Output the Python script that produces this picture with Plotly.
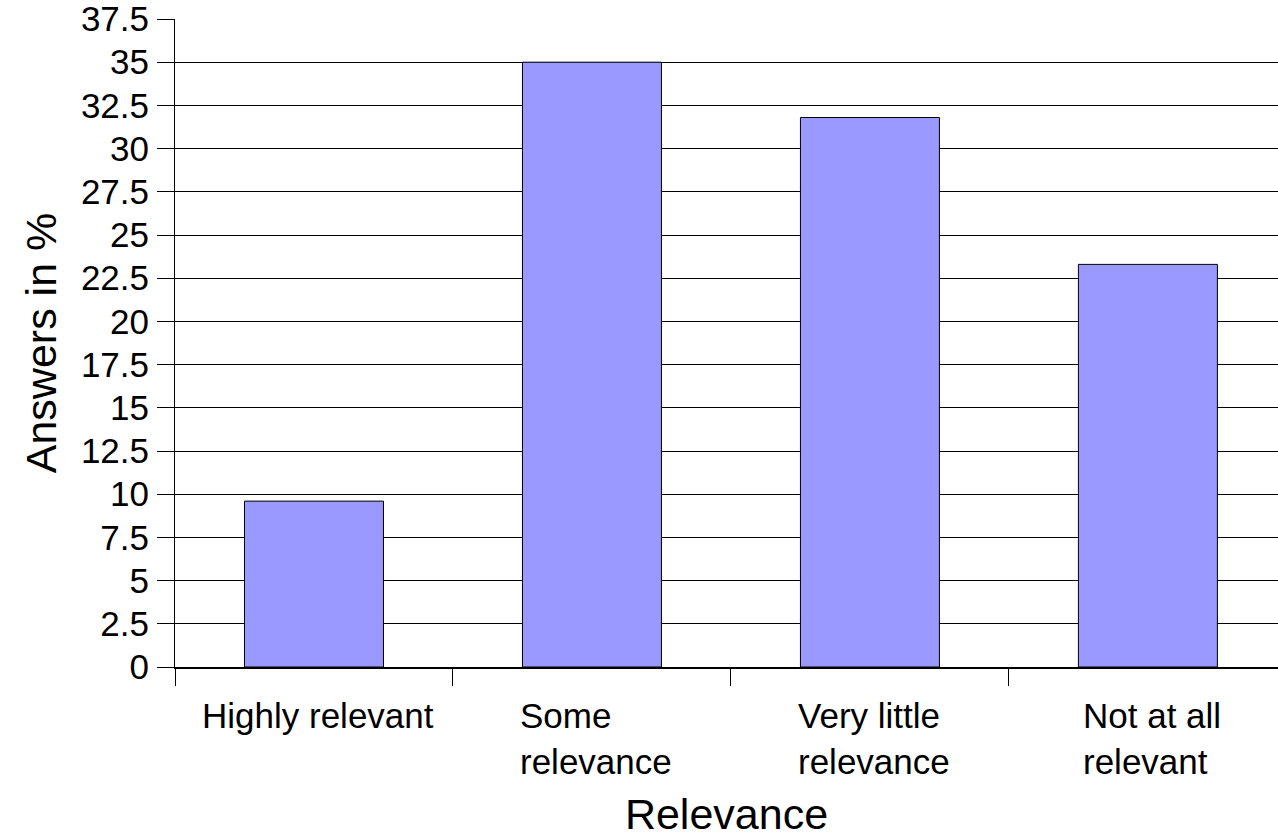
import plotly.graph_objects as go

# Survey results: share of answers per relevance level
categories = ["Highly relevant", "Some relevance", "Very little relevance", "Not at all relevant"]
label_lines = ["Highly relevant", "Some<br>relevance", "Very little<br>relevance", "Not at all<br>relevant"]
answers_pct = [9.6, 35.0, 31.8, 23.3]
y_ticks = [0, 2.5, 5, 7.5, 10, 12.5, 15, 17.5, 20, 22.5, 25, 27.5, 30, 32.5, 35, 37.5]

FONT = "Liberation Sans, Arial, sans-serif"

fig = go.Figure(
    go.Bar(
        x=categories,
        y=answers_pct,
        width=0.5,
        marker=dict(color="#9999FF", line=dict(color="#000000", width=1)),
    )
)

# Category labels: centred blocks, lines aligned left within each block
for cat, text in zip(categories, label_lines):
    fig.add_annotation(
        x=cat, y=0, xref="x", yref="paper",
        text=text, showarrow=False,
        xanchor="center", yanchor="top", align="left",
        xshift=4, yshift=-27,
        font=dict(family=FONT, size=35, color="#000000"),
    )

fig.update_layout(
    width=1278, height=838,
    margin=dict(l=175, r=0, t=19, b=171),
    paper_bgcolor="#FFFFFF", plot_bgcolor="#FFFFFF",
    showlegend=False,
    font=dict(family=FONT, size=35, color="#000000"),
    xaxis=dict(
        type="category",
        range=[-0.5, 3.468],
        automargin=False,
        showticklabels=False,
        tickson="boundaries",
        ticks="outside", ticklen=17, tickwidth=1, tickcolor="#000000",
        showline=True, linecolor="#000000", linewidth=2,
        showgrid=False, zeroline=False,
        title=dict(text="Relevance", standoff=137,
                   font=dict(family=FONT, size=43, color="#000000")),
    ),
    yaxis=dict(
        range=[0, 37.5],
        automargin=False,
        tickvals=y_ticks,
        ticktext=[f"{v:g}" for v in y_ticks],
        ticks="outside", ticklen=17, tickwidth=1, tickcolor="#000000",
        ticklabelstandoff=1,
        ticklabeloverflow="allow",
        showline=True, linecolor="#000000", linewidth=1,
        showgrid=True, gridcolor="#000000", gridwidth=1,
        zeroline=False,
        tickfont=dict(family=FONT, size=35, color="#000000"),
        title=dict(text="Answers in %", standoff=10,
                   font=dict(family=FONT, size=43, color="#000000")),
    ),
)

fig.write_html("out.html")
